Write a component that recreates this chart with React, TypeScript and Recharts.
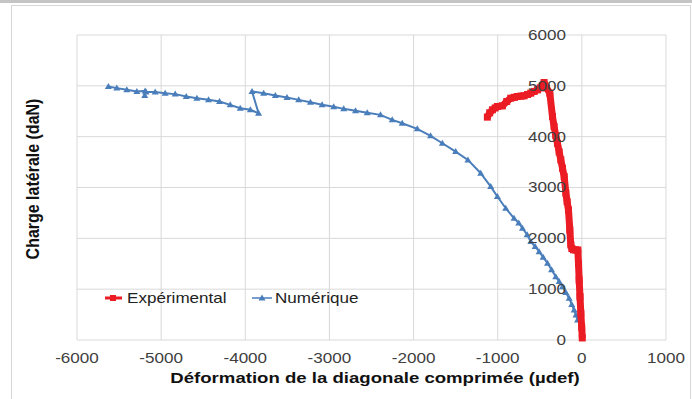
import { ScatterChart, Scatter, XAxis, YAxis, CartesianGrid } from 'recharts'

// axis ticks
const xTicks = [-6000, -5000, -4000, -3000, -2000, -1000, 0, 1000]
const yTicks = [0, 1000, 2000, 3000, 4000, 5000, 6000]

// Expérimental
const expX = [-1123, -1095, -1063, -1030, -1004, -944, -893, -845, -800, -765, -725, -687, -645, -607, -567, -527, -495, -468, -449, -420, -381, -349, -330, -310, -290, -270, -250, -230, -210, -190, -175, -159, -143, -131, -119, -100, -75, -48, -40, -32, -22, -12, -2, 5]
const expY = [4384, 4470, 4528, 4565, 4593, 4606, 4692, 4757, 4775, 4790, 4798, 4803, 4830, 4856, 4890, 4921, 4960, 5000, 5065, 4960, 4856, 4396, 4199, 4020, 3870, 3700, 3543, 3380, 3215, 2888, 2720, 2559, 2165, 1870, 1800, 1775, 1772, 1770, 1500, 1181, 850, 525, 250, 40]

// Numérique
const numX = [-5627, -5527, -5408, -5289, -5190, -5195, -5180, -5071, -4952, -4833, -4702, -4575, -4437, -4306, -4179, -4060, -3940, -3842, -3920, -3782, -3643, -3504, -3365, -3226, -3087, -2949, -2830, -2690, -2551, -2393, -2254, -2135, -1956, -1798, -1658, -1500, -1354, -1202, -1083, -1004, -905, -806, -750, -706, -650, -607, -555, -508, -460, -408, -360, -310, -270, -230, -190, -151, -120, -92, -70, -51]
const numY = [4986, 4955, 4921, 4888, 4900, 4810, 4880, 4880, 4856, 4837, 4790, 4757, 4724, 4692, 4626, 4560, 4528, 4462, 4888, 4856, 4810, 4770, 4724, 4678, 4626, 4587, 4547, 4508, 4469, 4429, 4331, 4265, 4154, 4016, 3871, 3707, 3543, 3281, 3018, 2822, 2592, 2395, 2300, 2198, 2070, 1936, 1840, 1738, 1630, 1510, 1380, 1246, 1150, 1050, 935, 820, 700, 590, 490, 394]

const expData = expX.map((x, i) => ({ x, y: expY[i] }))
const numData = numX.map((x, i) => ({ x, y: numY[i] }))

const RED = '#ec1c24'
const BLUE = '#4a7ebb'
const SX = 1.22
const FONT = '"Liberation Sans", Arial, sans-serif'

function XTick({ x, y, payload }: any) {
  return (
    <g transform={`translate(${x},${y})`}>
      <text transform={`scale(${SX},1)`} textAnchor="middle" dominantBaseline="central" fontSize={14} fill="#404040" fontFamily={FONT}>
        {payload.value}
      </text>
    </g>
  )
}

// y labels sit next to the x = 0 line, not at the plot edge
function YTick({ y, payload }: any) {
  return (
    <g transform={`translate(566,${y})`}>
      <text transform={`scale(${SX},1)`} textAnchor="end" dominantBaseline="central" fontSize={14} fill="#404040" fontFamily={FONT}>
        {payload.value}
      </text>
    </g>
  )
}

const square = ({ cx, cy }: any) => <rect x={cx - 3.5} y={cy - 3.5} width={7} height={7} fill={RED} />
const triangle = ({ cx, cy }: any) => (
  <polygon points={`${cx},${cy - 3.5} ${cx + 3.5},${cy + 2.5} ${cx - 3.5},${cy + 2.5}`} fill={BLUE} />
)

function LegendBox() {
  return (
    <svg width={692} height={399} style={{ position: 'absolute', left: 0, top: 0, pointerEvents: 'none' }}>
      <line x1={105} x2={122} y1={298} y2={298} stroke={RED} strokeWidth={3} />
      <rect x={110} y={295} width={6} height={6} fill={RED} />
      <g transform="translate(127,298)">
        <text transform={`scale(${SX},1)`} dominantBaseline="central" fontSize={14} fill="#222" fontFamily={FONT}>Expérimental</text>
      </g>
      <line x1={252} x2={272} y1={298} y2={298} stroke={BLUE} strokeWidth={1.5} />
      <polygon points="262,294.5 265.5,300.5 258.5,300.5" fill={BLUE} />
      <g transform="translate(275,298)">
        <text transform={`scale(${SX},1)`} dominantBaseline="central" fontSize={14} fill="#222" fontFamily={FONT}>Numérique</text>
      </g>
    </svg>
  )
}

export default function App() {
  return (
    <div style={{ position: 'absolute', left: 0, top: 0, width: 692, height: 399, background: '#fff', overflow: 'hidden', fontFamily: FONT }}>
      <div style={{ position: 'absolute', left: 0, top: 0, width: 692, height: 3, background: '#c4c4c4' }} />
      <div style={{ position: 'absolute', left: 11, top: 5, width: 678, height: 420, border: '1px solid #d6d6d6' }} />
      <div style={{ position: 'absolute', left: 0, top: 0 }}>
        <ScatterChart width={692} height={399} margin={{ top: 35, right: 26, bottom: 9, left: 17 }}>
          <CartesianGrid stroke="#d9d9d9" />
          <XAxis
            type="number"
            dataKey="x"
            domain={[-6000, 1000]}
            ticks={xTicks}
            axisLine={false}
            tickLine={false}
            tickSize={0}
            tickMargin={18}
            height={50}
            tick={<XTick />}
            label={{
              content: () => (
                <g transform="translate(375,378)">
                  <text transform="scale(1.2,1)" textAnchor="middle" dominantBaseline="central" fontSize={15.5} fontWeight="bold" fill="#111" fontFamily={FONT}>
                    Déformation de la diagonale comprimée (µdef)
                  </text>
                </g>
              ),
            }}
          />
          <YAxis
            type="number"
            dataKey="y"
            domain={[0, 6000]}
            ticks={yTicks}
            axisLine={false}
            tickLine={false}
            width={60}
            tick={<YTick />}
            label={{
              content: () => (
                <g transform="translate(32,179) rotate(-90)">
                  <text transform="scale(1,1.2)" textAnchor="middle" dominantBaseline="central" fontSize={16} fontWeight="bold" fill="#111" fontFamily={FONT}>
                    Charge latérale (daN)
                  </text>
                </g>
              ),
            }}
          />
          <Scatter data={numData} line={{ stroke: BLUE, strokeWidth: 2 }} lineType="joint" shape={triangle} isAnimationActive={false} />
          <Scatter data={expData} line={{ stroke: RED, strokeWidth: 7, strokeLinejoin: 'round' }} lineType="joint" shape={square} isAnimationActive={false} />
        </ScatterChart>
      </div>
      <LegendBox />
    </div>
  )
}
